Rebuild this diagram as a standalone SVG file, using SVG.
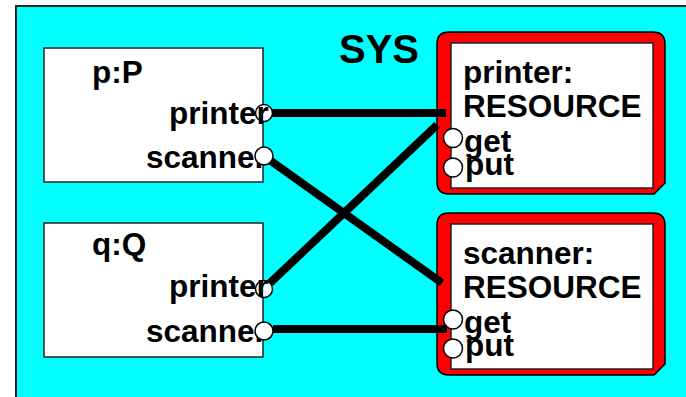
<svg xmlns="http://www.w3.org/2000/svg" width="686" height="397" viewBox="0 0 686 397">
  <defs>
    <style>
      text { font-family: "Liberation Sans", Arial, sans-serif; font-weight: bold; fill: #000; }
      .lbl { font-size: 31.5px; }
      .title { font-size: 40px; }
      .proc { fill: #fff; stroke: #222; stroke-width: 1.5; }
      .frame { fill: #f00; stroke: #000; stroke-width: 1.5; }
      .inner { fill: #fff; stroke: #222; stroke-width: 1.5; }
      .port { fill: #fff; stroke: #000; stroke-width: 1.5; }
      .wire { stroke: #000; stroke-width: 8; stroke-linecap: butt; fill: none; }
    </style>
    <!-- resource node: red rounded frame with white body -->
    <g id="resource-shape">
      <path class="frame" d="M449,32 H653 Q665,32 665,44 V183 L654,194 H449 Q437,194 437,182 V44 Q437,32 449,32 Z"/>
      <rect class="inner" x="451" y="43" width="202" height="145"/>
    </g>
  </defs>

  <!-- system boundary -->
  <g id="sys">
    <rect x="16" y="6" width="700" height="420" fill="#00ffff" stroke="#222" stroke-width="2"/>
    <text class="title" x="339" y="63">SYS</text>
  </g>

  <!-- process p:P -->
  <g id="p">
    <rect class="proc" x="44" y="48" width="219" height="134"/>
    <text class="lbl" x="92" y="83">p:P</text>
    <circle class="port" cx="264" cy="113" r="8.5"/>
    <text class="lbl" x="169" y="124">printer</text>
    <text class="lbl" x="146" y="168">scanner</text>
    <circle class="port" cx="264" cy="156" r="9"/>
  </g>

  <!-- process q:Q -->
  <g id="q">
    <rect class="proc" x="44" y="223" width="219" height="134"/>
    <text class="lbl" x="92" y="255">q:Q</text>
    <circle class="port" cx="264" cy="289" r="8.5"/>
    <text class="lbl" x="169" y="297">printer</text>
    <text class="lbl" x="146" y="342">scanner</text>
    <circle class="port" cx="264" cy="331" r="9"/>
  </g>

  <!-- resource printer:RESOURCE -->
  <g id="printer">
    <use href="#resource-shape"/>
    <text class="lbl" x="463" y="83">printer:</text>
    <text class="lbl" x="463" y="117">RESOURCE</text>
    <circle class="port" cx="453" cy="138" r="9.5"/>
    <circle class="port" cx="453" cy="167.5" r="9.5"/>
    <text class="lbl" x="464" y="152">get</text>
    <text class="lbl" x="465" y="175">put</text>
  </g>

  <!-- resource scanner:RESOURCE -->
  <g id="scanner">
    <use href="#resource-shape" transform="translate(0,181)"/>
    <text class="lbl" x="463" y="264">scanner:</text>
    <text class="lbl" x="463" y="298">RESOURCE</text>
    <circle class="port" cx="453" cy="319.5" r="9.5"/>
    <circle class="port" cx="453" cy="348.5" r="9.5"/>
    <text class="lbl" x="464" y="333">get</text>
    <text class="lbl" x="465" y="356">put</text>
  </g>

  <!-- connectors -->
  <g id="connectors">
    <line class="wire" x1="272" y1="113" x2="446" y2="113"/>
    <line class="wire" x1="271" y1="161" x2="442" y2="283"/>
    <line class="wire" x1="270" y1="283" x2="437" y2="125"/>
    <line class="wire" x1="273" y1="329" x2="447" y2="329"/>
  </g>
</svg>
